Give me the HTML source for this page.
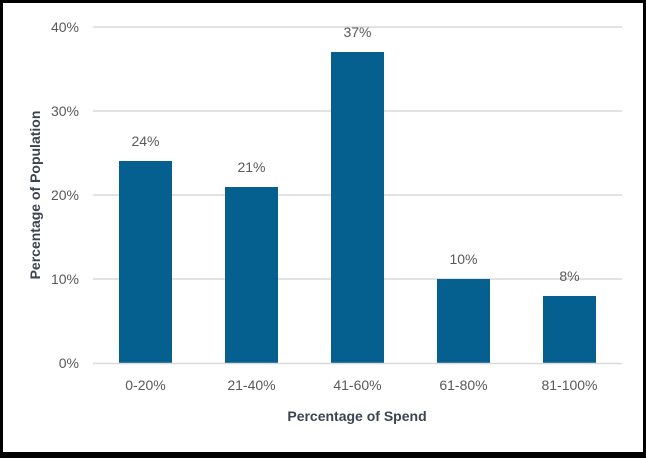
<!DOCTYPE html>
<html><head><style>
html,body{margin:0;padding:0;background:#000;}
svg{display:block;}
text{font-family:"Liberation Sans",sans-serif;}
</style></head><body>
<svg width="646" height="458" viewBox="0 0 646 458">
<rect x="0" y="0" width="646" height="458" fill="#000"/>
<rect x="3" y="3" width="640" height="449" fill="#fff"/>
<g stroke="#d9d9d9" stroke-width="1.5">
<line x1="93" y1="27" x2="622" y2="27"/>
<line x1="93" y1="111" x2="622" y2="111"/>
<line x1="93" y1="195" x2="622" y2="195"/>
<line x1="93" y1="279" x2="622" y2="279"/>
</g>
<g fill="#06608f">
<rect x="119" y="161" width="53" height="202"/>
<rect x="225" y="187" width="53" height="176"/>
<rect x="331" y="52" width="53" height="311"/>
<rect x="437" y="279" width="53" height="84"/>
<rect x="543" y="296" width="53" height="67"/>
</g>
<line x1="93" y1="363.5" x2="622" y2="363.5" stroke="#d9d9d9" stroke-width="1.5"/>
<g fill="#595959" font-size="14" text-anchor="end">
<text x="79" y="32">40%</text>
<text x="79" y="116">30%</text>
<text x="79" y="200">20%</text>
<text x="79" y="284">10%</text>
<text x="79" y="368">0%</text>
</g>
<g fill="#595959" font-size="14" text-anchor="middle">
<text x="145.5" y="146">24%</text>
<text x="251.5" y="172">21%</text>
<text x="357.5" y="37">37%</text>
<text x="463.5" y="264">10%</text>
<text x="569.5" y="281">8%</text>
<text x="145.5" y="390">0-20%</text>
<text x="251.5" y="390">21-40%</text>
<text x="357.5" y="390">41-60%</text>
<text x="463.5" y="390">61-80%</text>
<text x="569.5" y="390">81-100%</text>
</g>
<text x="357" y="421" fill="#3a4552" font-size="14" font-weight="bold" text-anchor="middle">Percentage of Spend</text>
<text transform="translate(40,195) rotate(-90)" fill="#3a4552" font-size="14" font-weight="bold" text-anchor="middle">Percentage of Population</text>
</svg>
</body></html>
